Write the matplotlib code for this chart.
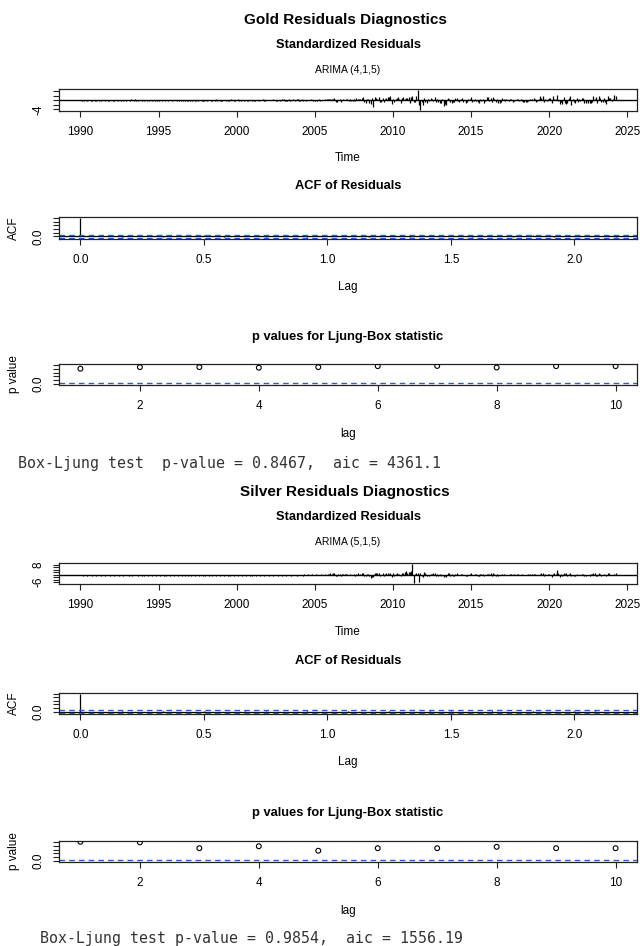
import numpy as np
import matplotlib.pyplot as plt

plt.rcParams['font.family'] = ['Liberation Sans', 'DejaVu Sans']

W, H = 640, 946

# standardized residuals, monthly from Jan 1990 (one row per year)
gold_resid = [
    0.2, -0.3, 0.3, -0.2, 0.1, -0.4, 0.3, 0.2, -0.3, -0.1, 0.2, -0.2,
    -0.3, 0.2, -0.2, 0.1, -0.3, 0.2, 0.1, -0.2, 0.3, -0.1, -0.2, 0.2,
    0.1, -0.2, -0.3, 0.2, 0.1, -0.1, 0.3, -0.2, 0.2, -0.3, 0.1, -0.2,
    0.3, 0.2, -0.1, 0.4, 0.3, -0.3, 0.4, -0.4, -0.3, 0.2, 0.1, -0.2,
    0.2, -0.1, 0.3, -0.2, 0.1, -0.3, 0.2, -0.2, 0.3, -0.1, 0.1, -0.3,
    -0.2, 0.1, 0.2, -0.1, 0.3, -0.2, 0.1, -0.3, 0.2, 0.1, -0.2, 0.1,
    0.3, 0.2, -0.2, 0.1, -0.3, -0.2, 0.2, -0.1, -0.2, 0.1, -0.3, -0.2,
    -0.3, 0.2, -0.4, 0.1, -0.2, -0.3, -0.4, 0.2, 0.3, -0.4, -0.2, -0.3,
    0.3, -0.2, 0.1, 0.2, -0.3, -0.1, 0.2, -0.3, 0.4, -0.2, 0.1, -0.3,
    -0.2, -0.3, 0.2, 0.1, -0.4, -0.3, -0.2, 0.2, 0.5, 0.3, -0.3, -0.2,
    0.2, 0.4, -0.3, -0.2, 0.1, 0.2, -0.3, 0.1, -0.2, -0.3, 0.2, 0.3,
    -0.2, -0.1, -0.3, 0.2, 0.3, -0.2, 0.1, 0.2, 0.4, -0.3, -0.1, 0.2,
    0.3, 0.2, 0.1, 0.3, 0.4, 0.2, -0.3, -0.2, 0.3, -0.2, 0.1, 0.4,
    0.4, -0.4, -0.3, -0.2, 0.5, -0.2, 0.3, 0.4, 0.3, -0.3, 0.4, 0.5,
    -0.3, -0.2, 0.4, -0.5, 0.3, -0.2, 0.1, 0.3, 0.2, 0.4, 0.3, -0.4,
    -0.4, 0.2, -0.3, 0.4, -0.5, 0.3, 0.2, 0.3, 0.6, 0.4, 0.5, 0.7,
    0.8, 0.5, 0.4, 1.0, -0.9, -0.7, 0.3, 0.4, -0.6, 0.3, 0.6, 0.2,
    0.4, 0.5, -0.3, 0.4, -0.5, -0.2, 0.5, -0.3, 0.9, 0.7, 0.5, 0.6,
    1.0, 1.3, -0.8, -1.0, 0.6, 0.8, -1.2, -1.5, 0.9, -3.0, 1.3, 1.0,
    0.8, 1.5, -0.9, -0.6, 1.2, -0.7, 0.5, 0.9, 1.4, 1.6, 2.0, -1.8,
    0.6, -0.9, 0.4, 1.0, 1.3, 0.8, -1.1, 0.9, 1.5, 0.7, 1.1, 0.9,
    1.5, -1.2, 1.3, 2.0, -0.9, -0.6, 1.8, 4.7, -2.0, -4.4, -0.8, -2.2,
    1.2, -0.6, -1.0, 0.8, -0.5, 1.1, 0.6, -0.4, 1.3, -0.7, 0.5, -0.9,
    -1.0, -1.3, 0.6, -2.6, -1.5, -1.9, 1.2, 0.8, -0.6, -1.1, -0.7, -0.9,
    1.1, 1.2, -0.5, -0.6, 0.4, 1.0, -0.7, 0.3, -1.0, -0.8, 0.5, 0.6,
    1.4, -0.9, -0.5, 0.4, -0.3, -0.6, -1.1, 0.8, -0.4, 0.6, -1.0, -0.5,
    1.4, 1.6, -0.3, 0.9, -0.8, 1.5, 0.7, -0.6, 0.4, -1.2, -1.0, -0.7,
    0.9, 0.8, -0.4, 0.6, 0.3, -0.5, 0.4, 0.8, -0.6, -0.4, 0.3, 0.5,
    0.7, -0.5, 0.4, -0.3, -0.8, -0.9, -0.7, -0.6, -0.4, 0.5, 0.3, 0.8,
    0.9, 0.4, -0.6, -0.3, 0.8, 1.9, 0.9, 2.0, -0.7, 0.5, -0.4, 0.8,
    1.2, 0.9, -1.1, 1.8, 0.6, 0.7, 2.2, -0.5, -1.6, -0.6, -1.8, 1.4,
    -1.3, -1.7, -1.2, 1.1, 1.8, -1.9, 0.8, -0.6, -1.2, 0.9, -0.7, 0.6,
    -0.4, 1.2, 0.9, -1.0, -1.2, -0.5, -1.4, -1.1, -1.3, -0.9, 1.9, 0.8,
    1.7, -1.4, 2.0, 1.0, -0.8, -0.9, 0.9, -0.6, -1.5, 2.1, 1.1, 0.9,
    -0.2, 0.4, 2.5, 1.9,
]

silver_resid = [
    0, 0, -0.9, 0, 0, -0.9, 0, 0, 0, -0.9, 0, 0,
    -0.9, 0, 0, 0, -0.9, 0, 0, -0.9, 0, 0, 0, -0.9,
    0, 0, -0.9, 0, 0, 0, -0.9, 0, 0, -0.9, 0, 0,
    0, -0.9, 0, 0, -0.9, 0, 0, 0, -0.9, 0, 0, -0.9,
    0, -0.9, 0, 0, -0.9, 0, 0, -0.9, 0, 0, -0.9, 0,
    0, -0.9, 0, 0, -0.9, 0, -0.9, 0, 0, -0.9, 0, 0,
    -0.9, 0, 0, -0.9, 0, 0, -0.9, 0, -0.9, 0, 0, -0.9,
    0, -0.9, 0, 0, -0.9, 0, 0, -0.9, 0, 0, -0.9, 0,
    -0.9, 0, 0, -0.9, 0, -0.9, 0, 0, -0.9, 0, 0, -0.9,
    0, 0, -0.9, 0, 0, -0.9, 0, -0.9, 0, 0, -0.9, 0,
    0, -0.9, 0, 0, -0.9, 0, 0, -0.9, 0, 0, -0.9, 0,
    -0.9, 0, 0, -0.9, 0, 0, -0.9, 0, 0, -0.9, 0, 0,
    0, -0.9, 0, 0, -0.9, 0, 0, 0, -0.9, 0, 0, -0.9,
    0, 0, -0.9, 0, 0, 0, -0.9, 0, 0, 0, -0.9, 0,
    0, 0, 0, -0.9, 0.6, -0.5, 0, 0.3, 0, -0.5, 0.4, 0,
    -0.5, 0.4, 0, -0.5, -0.6, 0.5, -0.5, 0, 0.4, -0.5, 0.5, 0.6,
    1.0, 0.8, 1.2, 1.5, -1.3, -0.9, 0.6, 0.8, -1.0, 0.7, 0.8, 0.5,
    0.6, 0.7, -0.5, 0.4, -0.6, -0.4, 0.5, -0.7, 0.8, 0.9, -0.6, 0.7,
    1.2, 1.6, -1.0, -1.1, 0.6, 0.8, -1.3, -2.5, -1.6, -2.0, 1.0, 1.3,
    1.1, 1.4, -0.8, -0.6, 1.5, -1.2, 0.6, 0.9, 1.2, 0.8, 1.3, -1.5,
    0.9, -1.0, 0.6, 1.0, 0.7, 0.5, -0.8, 1.1, 1.6, 1.8, 2.6, 1.4,
    2.0, 1.8, 3.1, 8.6, -6.8, 0.5, 1.6, 1.0, -6.0, 1.4, -1.2, -1.6,
    2.0, 1.0, -1.4, -0.6, -1.3, 0.5, 0.6, 1.6, 1.2, -0.9, 0.6, -1.0,
    0.8, -1.4, -0.5, -2.0, -1.2, -1.7, 0.9, 1.5, -1.0, 0.5, -0.9, -0.8,
    0.8, 1.0, -0.6, -0.4, 0.3, 0.8, -0.5, -0.6, -1.1, -0.7, -0.6, 0.5,
    1.1, -0.5, -0.3, 0.6, 0.4, -0.7, -0.9, 0.3, 0.4, 0.6, -0.9, -0.4,
    0.5, 0.6, 0.4, 1.2, -0.9, 1.1, 0.8, -0.7, 0.4, -0.8, -0.6, -0.5,
    0.6, 0.7, -0.3, -0.6, -0.4, -0.5, 0.3, 0.5, -0.4, 0.3, -0.3, 0.4,
    0.4, -0.5, -0.3, 0.3, -0.4, -0.3, -0.5, -0.6, 0.3, 0.4, -0.4, 0.6,
    0.4, 0.3, -0.4, -0.3, -0.5, 0.8, 0.9, 1.4, -0.9, 0.5, -0.6, 0.4,
    0.6, -0.6, -2.0, 0.8, 1.2, 0.6, 3.6, 1.5, -2.2, 0.4, -0.7, 1.3,
    0.8, 1.0, -1.2, 0.6, 1.0, -1.3, -0.6, -0.9, -1.1, 0.8, -0.5, -0.4,
    -0.5, 0.7, 0.6, -0.8, -1.0, -0.5, -0.3, -0.9, 0.8, 0.4, 1.3, 0.9,
    -0.7, -0.9, 1.2, 0.6, -0.8, -0.5, 0.7, -0.6, -0.8, 0.9, 1.0, -0.4,
    -0.3, -0.2, 0.8, 1.2,
]

# ACF of residuals, lags 0..26 months
gold_acf = [1.0, 0.01, -0.03, 0.04, -0.02, 0.03, 0.05, -0.04, 0.02, -0.01,
            0.03, -0.05, 0.02, 0.01, -0.03, 0.04, -0.02, 0.02, 0.03, -0.04,
            0.01, -0.02, 0.05, -0.03, 0.02, 0.01, -0.02]
silver_acf = [1.0, -0.01, 0.02, -0.03, 0.03, -0.02, 0.04, -0.03, 0.01, 0.02,
              -0.04, 0.03, -0.01, 0.02, -0.02, 0.03, -0.03, 0.01, 0.02, -0.02,
              0.03, -0.01, 0.02, -0.03, 0.01, 0.02, -0.01]

# Ljung-Box p values, lags 1..10
lb_lag = [1, 2, 3, 4, 5, 6, 7, 8, 9, 10]
gold_pval = [0.80, 0.88, 0.88, 0.85, 0.88, 0.93, 0.94, 0.86, 0.93, 0.93]
silver_pval = [1.00, 0.97, 0.67, 0.77, 0.54, 0.67, 0.67, 0.74, 0.67, 0.67]

year_ticks = [1990, 1995, 2000, 2005, 2010, 2015, 2020, 2025]
acf_ticks = [0.0, 0.5, 1.0, 1.5, 2.0]
lag_ticks = [2, 4, 6, 8, 10]

SECTIONS = [
    dict(name="Gold", model="ARIMA (4,1,5)", resid=gold_resid, acf=gold_acf, pval=gold_pval,
         rticks=[-4, -2, 0, 2, 4], rlabels=["-4", "", "", "", ""],
         note="Box-Ljung test  p-value = 0.8467,  aic = 4361.1", note_x=18,
         y=dict(title=20, sub=45, model=70, res=(89, 111), time=158, acft=186,
                acf=(217, 239), lag=287, lbt=337, lb=(364, 385), lag2=434, note=463)),
    dict(name="Silver", model="ARIMA (5,1,5)", resid=silver_resid, acf=silver_acf, pval=silver_pval,
         rticks=[-6, -4, -2, 0, 2, 4, 6, 8], rlabels=["-6", "", "", "", "", "", "", "8"],
         note="Box-Ljung test p-value = 0.9854,  aic = 1556.19", note_x=40,
         y=dict(title=492, sub=517, model=542, res=(563, 584), time=632, acft=661,
                acf=(693, 714), lag=762, lbt=813, lb=(841, 862), lag2=911, note=938)),
]

X0, X1 = 59, 637
XC = (X0 + X1) / 2
BLUE = '#2a5bd0'

fig = plt.figure(figsize=(W / 100, H / 100), dpi=100)


def box(y0, y1):
    ax = fig.add_axes([X0 / W, 1 - y1 / H, (X1 - X0) / W, (y1 - y0) / H])
    for s in ax.spines.values():
        s.set_linewidth(0.9)
        s.set_color('#222222')
    ax.tick_params(direction='out', length=4.5, width=0.8, labelsize=8.5, pad=6, color='#222222')
    ax.tick_params(axis='y', pad=6)
    return ax


def ftext(x, y, s, **kw):
    fig.text(x / W, 1 - y / H, s, ha='center', va='center', **kw)


def ylabels(ax, ticks, labels):
    ax.set_yticks(ticks)
    ax.set_yticklabels(labels, rotation=90, va='center', ha='right', fontsize=8.5)


for sec in SECTIONS:
    y = sec['y']
    ftext(XC - 3, y['title'], f"{sec['name']} Residuals Diagnostics", fontsize=11, fontweight='bold')
    ftext(XC, y['sub'], "Standardized Residuals", fontsize=9.3, fontweight='bold')
    ftext(XC, y['model'], sec['model'], fontsize=7.5)

    # standardized residuals
    r = np.array(sec['resid'])
    t = 1990 + np.arange(len(r)) / 12
    ax = box(*y['res'])
    ax.vlines(t, 0, r, color='black', lw=0.9)
    ax.axhline(0, color='black', lw=1)
    pad = 0.04 * (t[-1] - t[0])
    ax.set_xlim(t[0] - pad, t[-1] + pad)
    pad = 0.04 * (r.max() - r.min())
    ax.set_ylim(r.min() - pad, r.max() + pad)
    ax.set_xticks(year_ticks)
    ylabels(ax, sec['rticks'], sec['rlabels'])
    ftext(XC, y['time'], "Time", fontsize=8.5)

    # ACF of residuals
    a = np.array(sec['acf'])
    lag = np.arange(len(a)) / 12
    clim = 1.96 / np.sqrt(len(r))
    ftext(XC, y['acft'], "ACF of Residuals", fontsize=9.3, fontweight='bold')
    ax = box(*y['acf'])
    ax.vlines(lag, 0, a, color='black', lw=0.9)
    ax.axhline(0, color='black', lw=0.9)
    ax.axhline(clim, color=BLUE, lw=1, ls=(0, (4, 3)))
    ax.axhline(-clim, color=BLUE, lw=1, ls=(0, (4, 3)))
    pad = 0.04 * lag[-1]
    ax.set_xlim(-pad, lag[-1] + pad)
    lo, hi = min(a.min(), -clim), max(a.max(), clim)
    pad = 0.04 * (hi - lo)
    ax.set_ylim(lo - pad, hi + pad)
    ax.set_xticks(acf_ticks)
    ax.set_xticklabels([f"{v:.1f}" for v in acf_ticks])
    ylabels(ax, [0, 0.2, 0.4, 0.6, 0.8, 1.0], ["0.0", "", "", "", "", ""])
    ftext(14, (y['acf'][0] + y['acf'][1]) / 2, "ACF", fontsize=8.5, rotation=90)
    ftext(XC, y['lag'], "Lag", fontsize=8.5)

    # Ljung-Box p values
    ftext(XC, y['lbt'], "p values for Ljung-Box statistic", fontsize=9.3, fontweight='bold')
    ax = box(*y['lb'])
    ax.scatter(lb_lag, sec['pval'], s=12, facecolors='none', edgecolors='black', linewidths=0.8, zorder=3)
    ax.axhline(0.05, color=BLUE, lw=1, ls=(0, (4, 3)))
    ax.set_xlim(0.64, 10.36)
    ax.set_ylim(-0.04, 1.04)
    ax.set_xticks(lag_ticks)
    ylabels(ax, [0, 0.2, 0.4, 0.6, 0.8, 1.0], ["0.0", "", "", "", "", ""])
    ftext(14, (y['lb'][0] + y['lb'][1]) / 2, "p value", fontsize=8.5, rotation=90)
    ftext(XC, y['lag2'], "lag", fontsize=8.5)

    fig.text(sec['note_x'] / W, 1 - y['note'] / H, sec['note'], ha='left', va='center',
             fontsize=10.7, family='DejaVu Sans Mono', color='#333333')

fig.savefig("out.png", dpi=100)
